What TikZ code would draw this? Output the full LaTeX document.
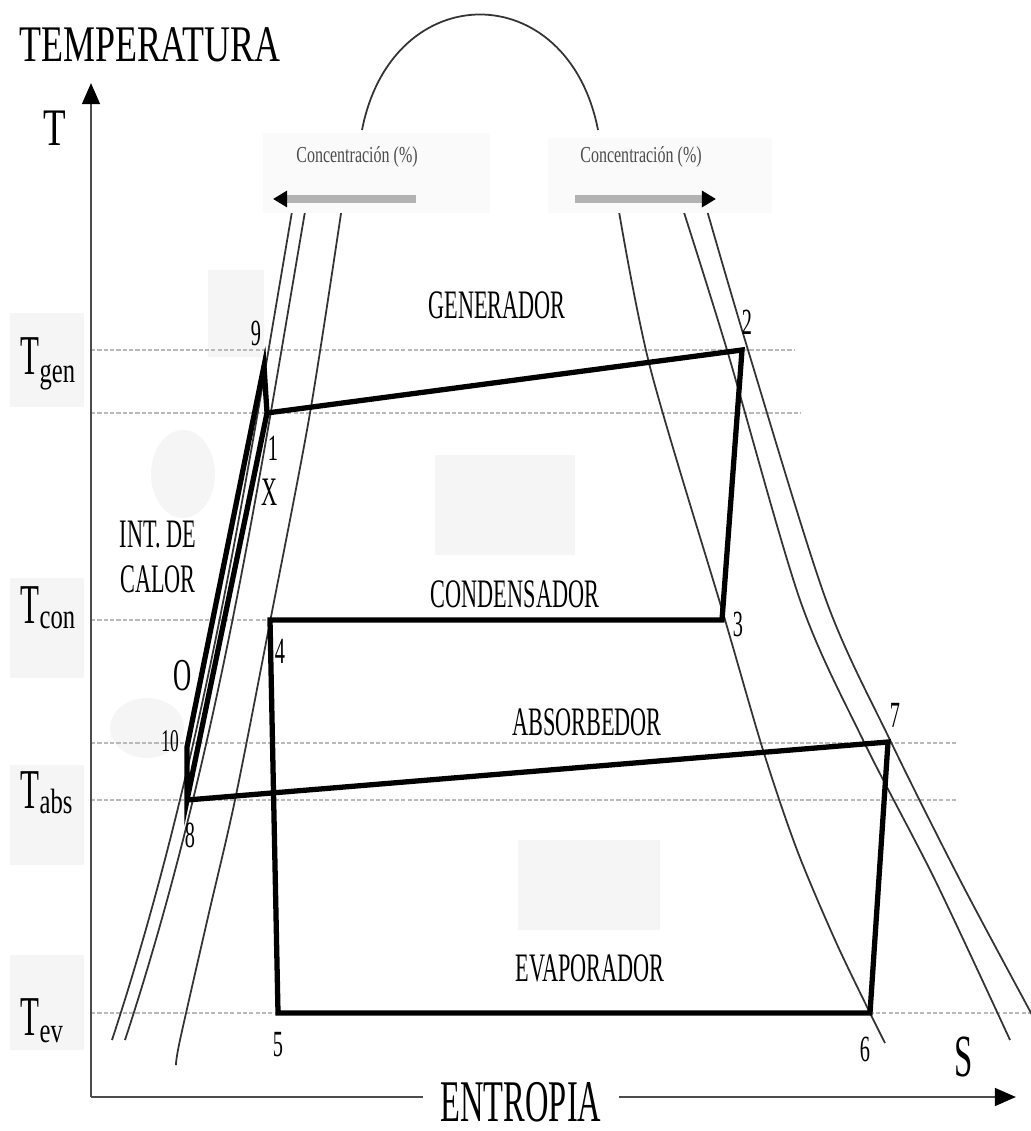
\documentclass[tikz,border=0pt]{standalone}
\usepackage{fontspec}
\setmainfont{Liberation Serif}
\newfontfamily\widefont[FakeStretch=0.7]{Liberation Serif}
\newfontfamily\condfont[FakeStretch=0.55]{Liberation Serif}
\usetikzlibrary{arrows.meta}

\tikzset{
  cyc/.style={line width=1.5pt, black, line join=miter},
  sat/.style={line width=0.5pt, black!80},
  isot/.style={gray!55, line width=0.7pt, dash pattern=on 1.2pt off 0.6pt},
  ghost/.style={fill=gray!8, draw=none},
  cover/.style={fill=gray!4, draw=none},
  conc/.style={line width=2pt, gray!60, -{Triangle[black, length=4pt, width=4.5pt]}},
  axis/.style={line width=0.8pt, gray!60!black, -{Triangle[black, length=6pt, width=5pt]}},
  num/.style={font=\condfont\fontsize{10.5}{11}\selectfont, inner sep=0pt},
  zone/.style={font=\condfont\fontsize{11.5}{13}\selectfont, inner sep=0pt},
  tlab/.style={font=\condfont\fontsize{16}{16}\selectfont, inner sep=0pt, anchor=base west},
}
\newcommand{\tsub}[2]{T\raisebox{-#2}{\widefont\fontsize{10}{10}\selectfont #1}}

\begin{document}
\begin{tikzpicture}[x=0.01cm, y=-0.01cm]
		\useasboundingbox (0,0) rectangle (1031,1131);

		% faint patches
		\fill [ghost] (10,313) rectangle (84,407);
		\fill [ghost] (10,578) rectangle (84,678);
		\fill [ghost] (10,765) rectangle (84,865);
		\fill [ghost] (10,955) rectangle (84,1050);
		\fill [ghost] (208,270) rectangle (264,357);
		\fill [ghost] (435,455) rectangle (575,555);
		\fill [ghost] (518,840) rectangle (660,930);
		\fill [ghost] (183,474) ellipse [x radius=32, y radius=44];
		\fill [ghost] (147,728) ellipse [x radius=37, y radius=30];

		% temperature levels
		\draw [isot] (91,350) -- (795,350);
		\draw [isot] (91,413) -- (800,413);
		\draw [isot] (91,620) -- (722,620);
		\draw [isot] (91,743) -- (958,743);
		\draw [isot] (91,800) -- (958,800);
		\draw [isot] (91,1013) -- (1031,1013);

		% dome and concentration lines
		\draw [sat] (362,130) .. controls (392,-24) and (568,-24) .. (598,130);
		\draw [sat] plot [smooth] coordinates {(343,200) (310,413) (270,622) (235,800) (208,917) (180,1040) (176,1065)};
		\draw [sat] plot [smooth] coordinates {(617,200) (650,367) (723,613) (763,750) (797,850) (835,940) (870,1013) (885,1043)};
		\draw [sat] (294,200) .. controls (246,480) and (204,760) .. (112,1040);
		\draw [sat] (307,200) .. controls (259,480) and (217,760) .. (125,1040);
		\draw [sat] plot [smooth] coordinates {(680,200) (727,350) (800,600) (863,740) (935,880) (1010,1040)};
		\draw [sat] plot [smooth] coordinates {(704,200) (748,350) (826,600) (890,740) (960,880) (1031,1013) (1040,1030)};

		\fill [cover] (263,133) rectangle (490,213);
		\fill [cover] (548,138) rectangle (772,213);

		% concentration arrows
		\coordinate (la0) at (416,199);
		\coordinate (la1) at (273,199);
		\coordinate (ra0) at (575,199);
		\coordinate (ra1) at (716,199);
		\draw [conc] (la0) -- (la1);
		\draw [conc] (ra0) -- (ra1);
		\node [font=\widefont\fontsize{6.5}{7}\selectfont, text=black!70] (lconc) at (357,157) {Concentración (\%)};
		\node [font=\widefont\fontsize{6.5}{7}\selectfont, text=black!70] (rconc) at (641,157) {Concentración (\%)};

		% axes
		\coordinate (orig) at (91,1097);
		\coordinate (ytip) at (91,83);
		\coordinate (xtip) at (1016,1097);
		\draw [axis] (orig) -- (ytip);
		\draw [axis] (orig) -- (xtip);
		\node [font=\condfont\fontsize{16.8}{17}\selectfont, fill=white, inner xsep=5pt, inner ysep=1pt] (ent) at (521,1102) {ENTROPIA};
		\node [font=\widefont\fontsize{14.6}{15}\selectfont, inner sep=0pt] (temp) at (150,45) {TEMPERATURA};
		\node [font=\widefont\fontsize{15}{15}\selectfont, inner sep=0pt] (tax) at (55,128) {T};
		\node [font=\condfont\fontsize{17}{17}\selectfont, inner sep=0pt] (sax) at (964,1057) {S};

		\node [tlab] (tgen) at (20,375) {\tsub{gen}{2pt}};
		\node [tlab] (tcon) at (20,623) {\tsub{con}{1.5pt}};
		\node [tlab] (tabs) at (20,808) {\tsub{abs}{1.5pt}};
		\node [tlab] (tev) at (20,1035) {\tsub{ev}{2pt}};

		% cycle
		\coordinate (p1) at (267,413);
		\coordinate (p2) at (742,350);
		\coordinate (p3) at (722,620);
		\coordinate (p4) at (270,620);
		\coordinate (p5) at (278,1013);
		\coordinate (p6) at (870,1013);
		\coordinate (p7) at (888,742);
		\coordinate (p8) at (187,800);
		\coordinate (p9) at (264,366);
		\coordinate (p10) at (187,747);
		\draw [cyc] (p1) -- (p2) -- (p3) -- (p4) -- (p5) -- (p6) -- (p7) -- (p8);
		\draw [cyc] (p8) -- (p10) -- (p9) -- (p1) -- cycle;

		\node [num] (n1) at (273,448) {1};
		\node [num] (n2) at (747,322) {2};
		\node [num] (n3) at (738,624) {3};
		\node [num] (n4) at (280,651) {4};
		\node [num] (n5) at (278,1045) {5};
		\node [num] (n6) at (865,1049) {6};
		\node [num] (n7) at (895,715) {7};
		\node [num] (n8) at (190,835) {8};
		\node [num] (n9) at (256,333) {9};
		\node [num, font=\condfont\fontsize{9}{9}\selectfont] (n10) at (170,741) {10};
		\node [zone] (xmark) at (270,492) {X};
		\node [font=\condfont\fontsize{13}{13}\selectfont, inner sep=0pt] (omark) at (183,676) {O};

		\node [zone] (gen) at (497,305) {GENERADOR};
		\node [zone] (con) at (515,594) {CONDENSADOR};
		\node [zone] (abs) at (587,722) {ABSORBEDOR};
		\node [zone] (eva) at (590,968) {EVAPORADOR};
		\node [zone, align=center] (idc) at (158,557) {INT. DE\\CALOR};

\end{tikzpicture}
\end{document}
